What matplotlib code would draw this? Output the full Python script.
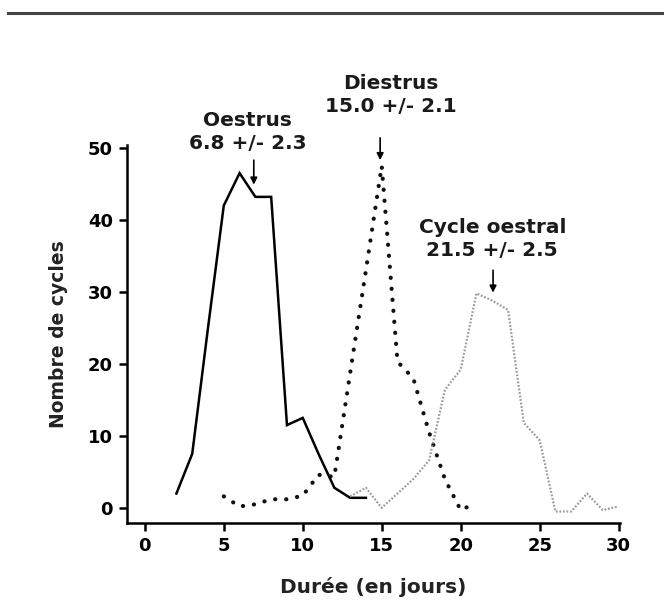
import matplotlib
matplotlib.use("Agg")
from matplotlib import pyplot as plt

# durations (days) and cycle counts
oestrus_x = [2, 3, 4, 5, 6, 7, 8, 9, 10, 11, 12, 13, 14]
oestrus_y = [2, 7.5, 25, 42, 46.5, 43.2, 43.2, 11.5, 12.5, 7.5, 2.8, 1.4, 1.4]

diestrus_x = [5, 6, 7, 8, 9, 10, 11, 12, 13, 14, 15, 16, 17, 18, 19, 20, 21]
diestrus_y = [1.6, 0.2, 0.5, 1.2, 1.2, 1.7, 4.6, 4.3, 18.7, 33, 47.5, 20.3, 18, 10.5, 4, -0.3, 0.7]

cycle_x = [13, 14, 15, 16, 17, 18, 19, 20, 21, 22, 23, 24, 25, 26, 27, 28, 29, 30]
cycle_y = [1.6, 2.8, 0, 2, 4, 6.6, 16.4, 19.2, 29.8, 28.8, 27.5, 11.8, 9.4, -0.5, -0.5, 2, -0.3, 0.2]

plt.rcParams['font.family'] = 'DejaVu Sans'
plt.rcParams['font.weight'] = 'bold'

fig = plt.figure(figsize=(6.64, 6.12), dpi=100)
ax = fig.add_axes([0.191, 0.1454, 0.743, 0.6176])

ax.plot(oestrus_x, oestrus_y, color='black', lw=1.8, solid_joinstyle='miter')
ax.plot(diestrus_x, diestrus_y, color='#111111', lw=3.0,
        linestyle=(0, (0.05, 2.6)), dash_capstyle='round')
ax.plot(cycle_x, cycle_y, color='#9a9a9a', lw=1.6,
        linestyle=(0, (0.8, 0.8)))

ax.set_xlim(-1.14, 30.1)
ax.set_ylim(-2.1, 50.4)
ax.set_xticks([0, 5, 10, 15, 20, 25, 30])
ax.set_yticks([0, 10, 20, 30, 40, 50])
ax.spines['top'].set_visible(False)
ax.spines['right'].set_visible(False)
for s in ['left', 'bottom']:
    ax.spines[s].set_linewidth(1.8)
ax.tick_params(width=1.8, length=6, labelsize=13, pad=4)

ax.set_xlabel('Durée (en jours)', fontsize=14.5, fontweight='bold', labelpad=16, color='#222222')
ax.set_ylabel('Nombre de cycles', fontsize=13.5, fontweight='bold', labelpad=14, color='#222222')

# annotations with small arrows
labels = [
    ('Oestrus\n6.8 +/- 2.3', 6.5, 52.2, 6.9, 48.3, 44.9),
    ('Diestrus\n15.0 +/- 2.1', 15.6, 57.4, 14.9, 51.4, 48.3),
    ('Cycle oestral\n21.5 +/- 2.5', 22.0, 37.4, 22.05, 33.0, 29.9),
]
for txt, tx, ty, ax_x, y0, y1 in labels:
    ax.text(tx, ty, txt, ha='center', va='center', fontsize=14.5,
            fontweight='bold', linespacing=1.25, clip_on=False, color='#1a1a1a')
    ax.annotate('', xy=(ax_x, y1), xytext=(ax_x, y0), annotation_clip=False,
                arrowprops=dict(arrowstyle='-|>', color='black', lw=1.2,
                                mutation_scale=10, shrinkA=0, shrinkB=0))

# grey rule at the top of the picture
fig.add_artist(plt.Line2D([0.012, 1.0], [0.979, 0.979], color='#444444', lw=2.2))

fig.savefig('out.png', dpi=100)
